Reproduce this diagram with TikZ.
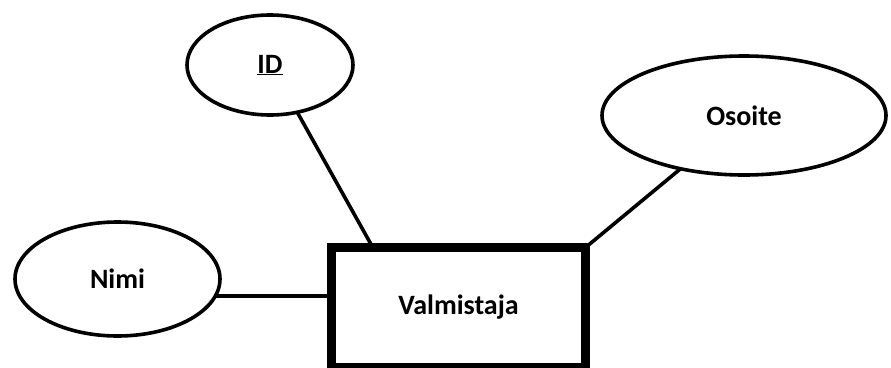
\documentclass[tikz,border=0pt]{standalone}
\usepackage{fontspec}
\setmainfont{Carlito}
\usetikzlibrary{shapes.geometric}

\begin{document}
\begin{tikzpicture}[x=1pt,y=-1pt,attr/.style={draw,ellipse,line width=3.6pt,inner sep=0pt,outer sep=0pt,font=\fontsize{28}{33}\selectfont\bfseries},ent/.style={draw,rectangle,line width=8.5pt,inner sep=0pt,outer sep=0pt,minimum width=254pt,minimum height=120pt,font=\fontsize{28}{33}\selectfont\bfseries},link/.style={line width=3.6pt}]
      \useasboundingbox (0,0) rectangle (891,367);
      \node[ent] (valm) at (458.5,307.5) {Valmistaja};
      \node[attr,minimum width=166pt,minimum height=100pt] (id) at (270,65) {\underline{ID}}; \node[attr,minimum width=284pt,minimum height=119pt] (osoite) at (744,115.5) {Osoite}; \node[attr,minimum width=205pt,minimum height=114pt] (nimi) at (117.5,279) {Nimi};
      \draw[link] (id.-60)--(valm.145); \draw[link] (osoite.220.7)--(valm.north east); \draw[link] (nimi.-10)--(nimi.-10 -| valm.west);
    \end{tikzpicture}
\end{document}
